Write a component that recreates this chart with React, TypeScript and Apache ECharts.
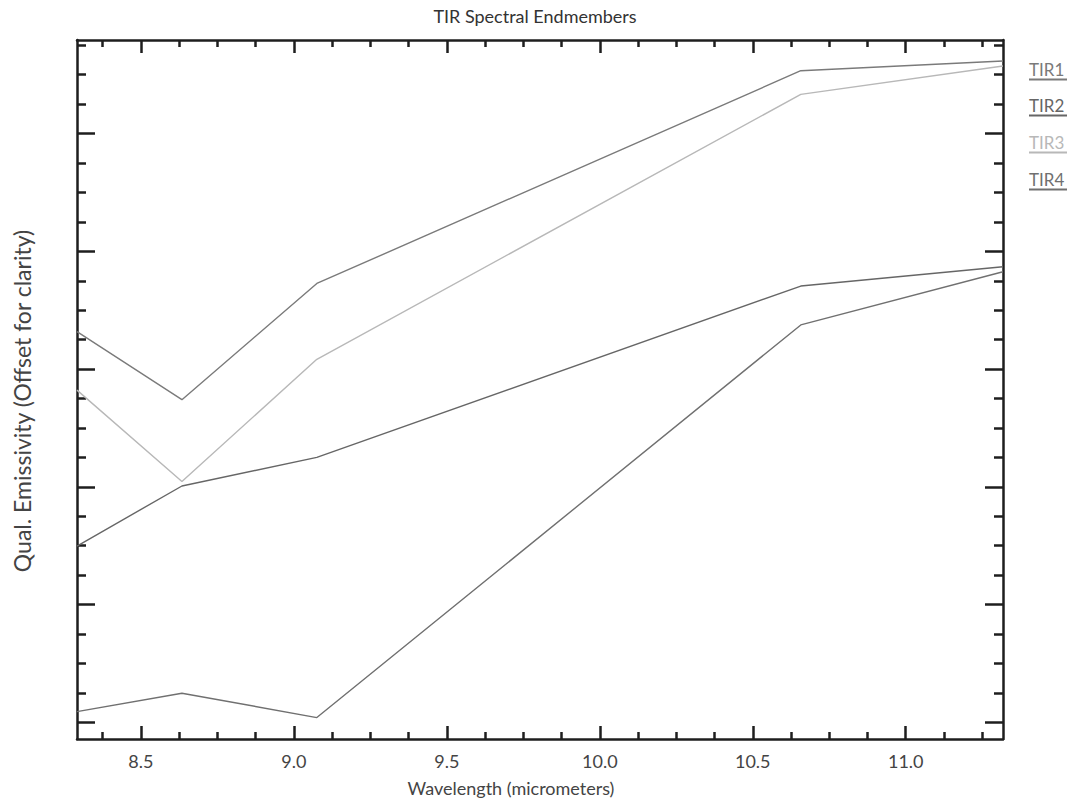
import React, { useEffect, useRef } from "react";
import * as echarts from "echarts";

const wavelengths = [8.291, 8.634, 9.075, 10.657, 11.318];
const tir1 = [4.318, 3.740, 4.727, 6.534, 6.617];
const tir2 = [2.497, 3.007, 3.250, 4.705, 4.869];
const tir3 = [3.821, 3.045, 4.083, 6.333, 6.574];
const tir4 = [1.091, 1.247, 1.040, 4.375, 4.827];
const seriesNames = ["TIR1", "TIR2", "TIR3", "TIR4"];
const seriesColors = ["#7a7a7a", "#666666", "#b8b8b8", "#707070"];
const xMajor = [8.5, 9.0, 9.5, 10.0, 10.5, 11.0];
const xMinor = [8.375, 8.625, 8.75, 8.875, 9.125, 9.25, 9.375, 9.625, 9.75, 9.875, 10.125, 10.25, 10.375, 10.625, 10.75, 10.875, 11.125, 11.25];
const yMajor = [1, 2, 3, 4, 5, 6];
const yMinor = [1.25, 1.5, 1.75, 2.25, 2.5, 2.75, 3.25, 3.5, 3.75, 4.25, 4.5, 4.75, 5.25, 5.5, 5.75, 6.25, 6.5, 6.75];

const FONT = "Lato";
const AXIS_COLOR = "#1e1e1e";

export default function App() {
  const ref = useRef<HTMLDivElement>(null);
  useEffect(() => {
    document.body.style.margin = "0";
    const chart = echarts.init(ref.current!, null, { renderer: "svg" });
    const values = [tir1, tir2, tir3, tir4];
    const xBase = (pos: string, ticks: number[], len: number, labels: boolean, line: boolean) => ({
      type: "value",
      position: pos,
      min: 8.291,
      max: 11.318,
      axisLine: { show: line, onZero: false, lineStyle: { color: AXIS_COLOR, width: 2.5 } },
      axisTick: { show: true, inside: true, length: len, customValues: ticks, lineStyle: { color: AXIS_COLOR, width: 2.5 } },
      axisLabel: labels
        ? { show: true, customValues: ticks, formatter: (v: number) => v.toFixed(1), fontFamily: FONT, fontSize: 18, color: "#444", margin: 13 }
        : { show: false },
      splitLine: { show: false },
    });
    const yBase = (pos: string, ticks: number[], len: number, line: boolean) => ({
      type: "value",
      position: pos,
      min: 0.858,
      max: 6.795,
      axisLine: { show: line, onZero: false, lineStyle: { color: AXIS_COLOR, width: 2.5 } },
      axisTick: { show: true, inside: true, length: len, customValues: ticks, lineStyle: { color: AXIS_COLOR, width: 2.5 } },
      axisLabel: { show: false },
      splitLine: { show: false },
    });
    const xAxis: any[] = [
      xBase("bottom", xMajor, 13, true, true),
      xBase("bottom", xMinor, 7, false, false),
      xBase("top", xMajor, 13, false, true),
      xBase("top", xMinor, 7, false, false),
    ];
    const yAxis: any[] = [
      yBase("left", yMajor, 18, true),
      yBase("left", yMinor, 9, false),
      yBase("right", yMajor, 18, true),
      yBase("right", yMinor, 9, false),
    ];
    const legendY = [69, 105, 142, 179];
    const graphic: any[] = [
      {
        type: "text",
        x: 22,
        y: 401,
        rotation: Math.PI / 2,
        style: { text: "Qual. Emissivity (Offset for clarity)", fontFamily: FONT, fontSize: 23, fill: "#444", align: "center", verticalAlign: "middle" },
      },
      {
        type: "text",
        x: 511,
        y: 788,
        style: { text: "Wavelength (micrometers)", fontFamily: FONT, fontSize: 18, fill: "#444", align: "center", verticalAlign: "middle" },
      },
    ];
    seriesNames.forEach((n, i) => {
      graphic.push({
        type: "text",
        x: 1029,
        y: legendY[i],
        style: { text: n, fontFamily: FONT, fontSize: 17, fill: seriesColors[i], align: "left", verticalAlign: "middle" },
      });
      graphic.push({
        type: "line",
        shape: { x1: 1029, y1: legendY[i] + 10.5, x2: 1067, y2: legendY[i] + 10.5 },
        style: { stroke: seriesColors[i], lineWidth: 2 },
      });
    });
    chart.setOption({
      animation: false,
      backgroundColor: "#ffffff",
      title: {
        text: "TIR Spectral Endmembers",
        left: "center",
        top: 2,
        textStyle: { fontFamily: FONT, fontSize: 18, fontWeight: "normal", color: "#333" },
      },
      grid: { left: 77, right: 67, top: 40, bottom: 60, containLabel: false },
      xAxis,
      yAxis,
      graphic,
      series: values.map((vals, i) => ({
        name: seriesNames[i],
        type: "line",
        xAxisIndex: 0,
        yAxisIndex: 0,
        symbol: "none",
        data: wavelengths.map((w, j) => [w, vals[j]]),
        lineStyle: { color: seriesColors[i], width: 1.4 },
        itemStyle: { color: seriesColors[i] },
      })),
    });
    return () => chart.dispose();
  }, []);
  return <div ref={ref} style={{ position: "absolute", left: 0, top: 0, width: 1070, height: 799 }} />;
}
